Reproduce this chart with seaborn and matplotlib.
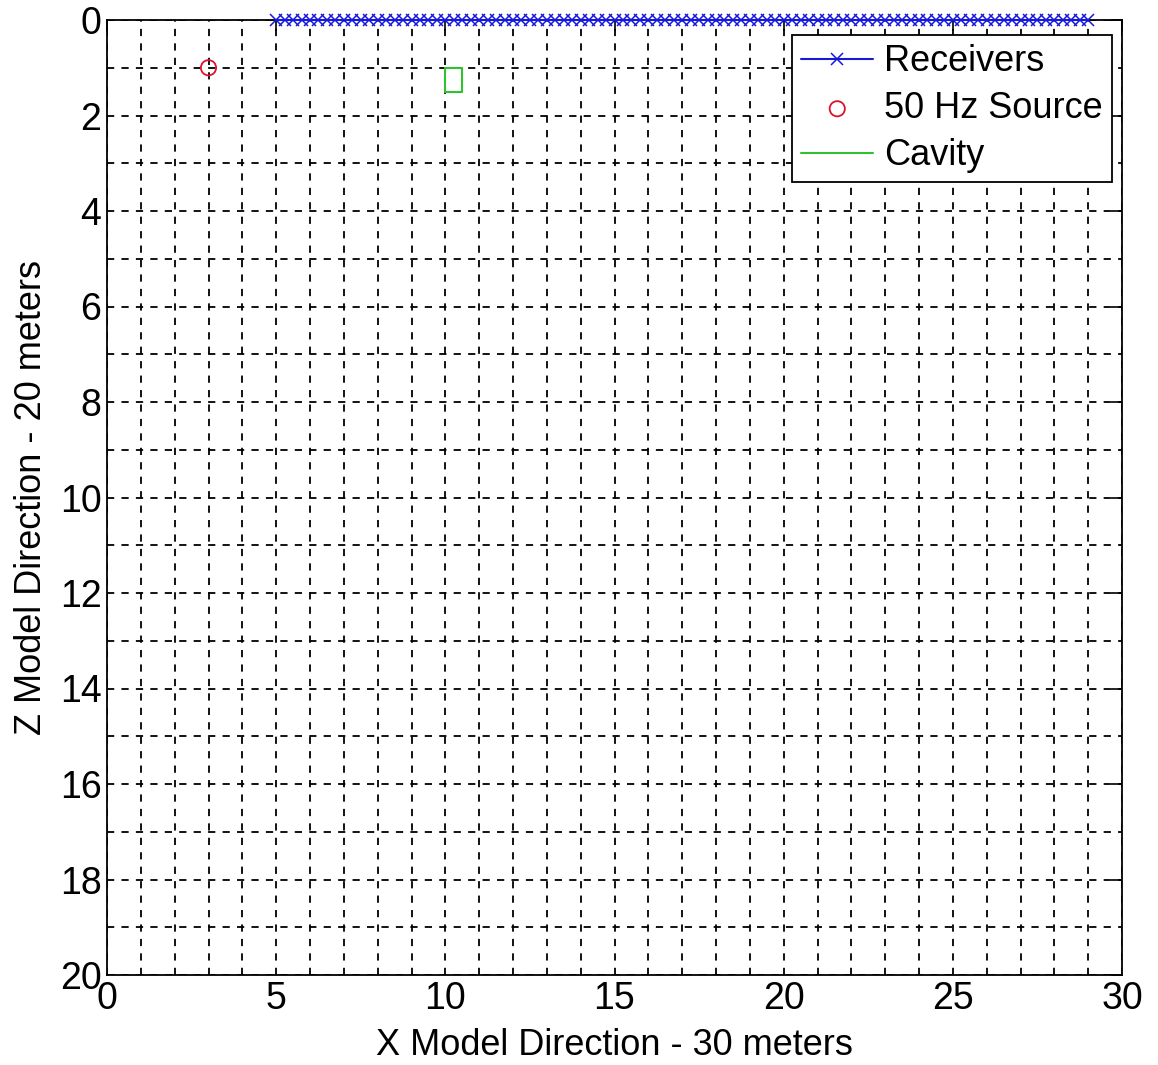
import matplotlib
matplotlib.use("Agg")
import matplotlib.pyplot as plt
import seaborn as sns
import pandas as pd
from matplotlib.ticker import MultipleLocator

# ---- data ----
receiver_x = [5.0, 5.25, 5.5, 5.75, 6.0, 6.25, 6.5, 6.75, 7.0, 7.25, 7.5, 7.75,
              8.0, 8.25, 8.5, 8.75, 9.0, 9.25, 9.5, 9.75, 10.0, 10.25, 10.5, 10.75,
              11.0, 11.25, 11.5, 11.75, 12.0, 12.25, 12.5, 12.75, 13.0, 13.25, 13.5, 13.75,
              14.0, 14.25, 14.5, 14.75, 15.0, 15.25, 15.5, 15.75, 16.0, 16.25, 16.5, 16.75,
              17.0, 17.25, 17.5, 17.75, 18.0, 18.25, 18.5, 18.75, 19.0, 19.25, 19.5, 19.75,
              20.0, 20.25, 20.5, 20.75, 21.0, 21.25, 21.5, 21.75, 22.0, 22.25, 22.5, 22.75,
              23.0, 23.25, 23.5, 23.75, 24.0, 24.25, 24.5, 24.75, 25.0, 25.25, 25.5, 25.75,
              26.0, 26.25, 26.5, 26.75, 27.0, 27.25, 27.5, 27.75, 28.0, 28.25, 28.5, 28.75, 29.0]
receiver_z = [0.0] * len(receiver_x)
source_x = [3.0]
source_z = [1.0]
cavity_x = [10.0, 10.5, 10.5, 10.0, 10.0]
cavity_z = [1.0, 1.0, 1.5, 1.5, 1.0]
x_ticks = [0, 5, 10, 15, 20, 25, 30]
z_ticks = [0, 2, 4, 6, 8, 10, 12, 14, 16, 18, 20]
legend_labels = ["Receivers", "50 Hz Source", "Cavity"]

sns.set_style("white")
plt.rcParams['font.family'] = ['Liberation Sans', 'DejaVu Sans']
plt.rcParams['text.color'] = 'black'
plt.rcParams['axes.labelcolor'] = 'black'
plt.rcParams['xtick.color'] = 'black'
plt.rcParams['ytick.color'] = 'black'

fig = plt.figure(figsize=(11.58, 10.65), dpi=100)
ax = fig.add_axes([107/1158, 1 - 975/1065, (1122-107)/1158, (975-20)/1065])

rec_df = pd.DataFrame({"x": receiver_x, "z": receiver_z})
src_df = pd.DataFrame({"x": source_x, "z": source_z})
cav_df = pd.DataFrame({"x": cavity_x, "z": cavity_z})

sns.lineplot(data=rec_df, x="x", y="z", sort=False, estimator=None, ax=ax, color="#1818d8",
             linewidth=1.5, marker="x", markersize=8, markeredgewidth=1.1,
             markeredgecolor="#1818d8", label=legend_labels[0], clip_on=False, zorder=5)
sns.scatterplot(data=src_df, x="x", y="z", ax=ax, marker="o", s=120,
                facecolors="none", edgecolors="#e0102a", linewidth=1.3,
                label=legend_labels[1], zorder=5)
sns.lineplot(data=cav_df, x="x", y="z", sort=False, estimator=None, ax=ax, color="#30c030",
             linewidth=1.5, label=legend_labels[2], zorder=5)

ax.set_xlim(0, 30)
ax.set_ylim(20, 0)
ax.set_xticks(x_ticks)
ax.set_yticks(z_ticks)
ax.xaxis.set_minor_locator(MultipleLocator(1))
ax.yaxis.set_minor_locator(MultipleLocator(1))
ax.grid(True, which="both", color="black", linestyle=(0, (4, 4)), linewidth=1.3)
ax.set_axisbelow(True)
ax.tick_params(axis="both", which="major", direction="in", length=8, width=1.2,
               top=True, right=True, labelsize=27, pad=4)
ax.tick_params(axis="both", which="minor", direction="in", length=0)
for s in ax.spines.values():
    s.set_color("black")
    s.set_linewidth(1.3)
ax.set_xlabel("X Model Direction - 30 meters", fontsize=26, labelpad=8)
ax.set_ylabel("Z Model Direction - 20 meters", fontsize=26, labelpad=8)

leg = ax.legend(loc="upper right", bbox_to_anchor=(0.99, 0.984), fontsize=26,
                frameon=True, fancybox=False, edgecolor="black", framealpha=1,
                handlelength=2.0, handletextpad=0.3, borderpad=0.25, labelspacing=0.33,
                borderaxespad=0)
leg.get_frame().set_linewidth(1.3)

fig.savefig("out.png", dpi=100)
